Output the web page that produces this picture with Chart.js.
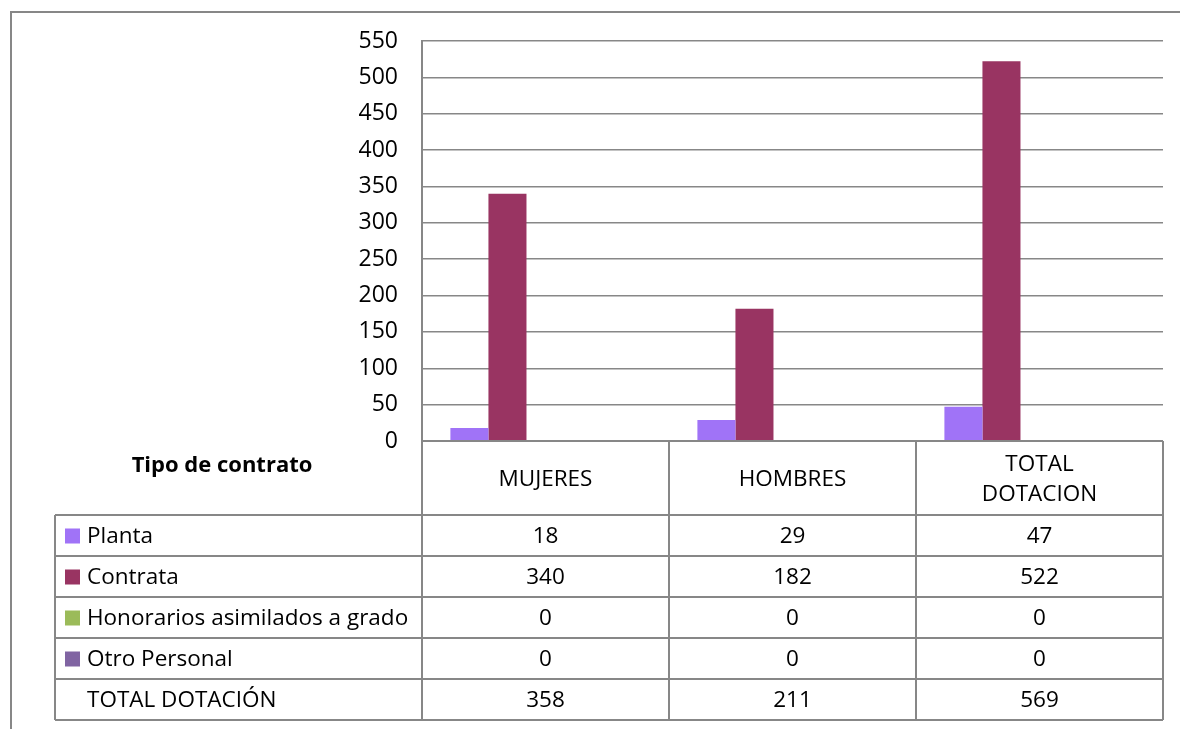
<!DOCTYPE html>
<html>
<head>
<meta charset="utf-8">
<script src="https://cdn.jsdelivr.net/npm/chart.js@4/dist/chart.umd.min.js"></script>
<style>
  html, body { margin: 0; padding: 0; background: #fff; }
  #wrap { width: 1180px; height: 729px; }
</style>
</head>
<body>
<div id="wrap"><canvas id="dotacion" width="1180" height="729"></canvas></div>
<script>
const categories = ["MUJERES", "HOMBRES", ["TOTAL", "DOTACION"]];
const seriesNames = ["Planta", "Contrata", "Honorarios asimilados a grado", "Otro Personal", "TOTAL DOTACIÓN"];
const planta = [18, 29, 47];
const contrata = [340, 182, 522];
const honorarios = [0, 0, 0];
const otroPersonal = [0, 0, 0];
const totalDotacion = [358, 211, 569];
const seriesColors = ["#A073F7", "#993462", "#9BBB59", "#8064A2", "rgba(0,0,0,0)"];
const tableTitle = "Tipo de contrato";

const FONT = "'Open Sans', 'Noto Sans', sans-serif";
const LINE = "#878787";

const allSeries = [planta, contrata, honorarios, otroPersonal, totalDotacion];

// draws the frame and the data table under the plot (Excel style)
const dataTable = {
  id: "dataTable",
  beforeDraw(chart) {
    const c = chart.ctx;
    c.save();
    c.strokeStyle = LINE;
    c.lineWidth = 2;
    c.beginPath();
    c.moveTo(11, 729);
    c.lineTo(11, 12);
    c.lineTo(1180, 12);
    c.stroke();
    c.restore();
  },
  afterDraw(chart) {
    const c = chart.ctx;
    const area = chart.chartArea;
    const x = chart.scales.x;
    const colW = area.width / categories.length;
    const headH = 74, rowH = 41, tableLeft = 55;
    const top = area.bottom;
    const rowsTop = top + headH;
    const bottom = rowsTop + rowH * seriesNames.length;

    c.save();
    c.strokeStyle = LINE;
    c.lineWidth = 2;
    c.beginPath();
    c.moveTo(area.left, top); c.lineTo(area.right, top);
    for (let i = 0; i <= categories.length; i++) {
      const lx = area.left + i * colW;
      c.moveTo(lx, top); c.lineTo(lx, bottom);
    }
    c.moveTo(tableLeft, rowsTop); c.lineTo(tableLeft, bottom);
    for (let r = 0; r <= seriesNames.length; r++) {
      const ly = rowsTop + r * rowH;
      c.moveTo(tableLeft, ly); c.lineTo(area.right, ly);
    }
    c.stroke();

    c.fillStyle = "#000";
    c.textBaseline = "middle";
    c.textAlign = "center";
    c.font = "bold 22px " + FONT;
    c.fillText(tableTitle, 222, top + 25);

    c.font = "22.5px " + FONT;
    categories.forEach((cat, i) => {
      const cx = x.getPixelForTick(i);
      const lines = Array.isArray(cat) ? cat : [cat];
      const lh = 30;
      const y0 = top + headH / 2 + 2 - (lines.length - 1) * lh / 2;
      lines.forEach((t, k) => c.fillText(t, cx, y0 + k * lh));
    });

    seriesNames.forEach((name, r) => {
      const cy = rowsTop + r * rowH + rowH / 2;
      if (r < 4) {
        c.fillStyle = seriesColors[r];
        c.fillRect(65, cy - 7, 15, 15);
      }
      c.fillStyle = "#000";
      c.textAlign = "left";
      c.fillText(name, 87, cy + 1);
      c.textAlign = "center";
      allSeries[r].forEach((v, i) => c.fillText(String(v), x.getPixelForTick(i), cy + 1));
    });
    c.restore();
  }
};

new Chart(document.getElementById("dotacion").getContext("2d"), {
  type: "bar",
  data: {
    labels: categories,
    datasets: seriesNames.map((name, i) => ({
      label: name,
      data: allSeries[i],
      backgroundColor: seriesColors[i],
      borderWidth: 0,
      categoryPercentage: 0.77,
      barPercentage: 1
    }))
  },
  options: {
    responsive: false,
    animation: false,
    layout: { padding: { left: 0, top: 41, right: 17, bottom: 288 } },
    plugins: { legend: { display: false }, tooltip: { enabled: false } },
    scales: {
      x: { display: false },
      y: {
        min: 0,
        max: 550,
        ticks: { stepSize: 50, color: "#000", padding: 24, font: { family: FONT, size: 23, lineHeight: 1.4 } },
        grid: { color: LINE, lineWidth: 1.5, drawTicks: false },
        border: { color: LINE, width: 2 },
        afterFit: (s) => { s.width = 422; }
      }
    }
  },
  plugins: [dataTable]
});
</script>
</body>
</html>
